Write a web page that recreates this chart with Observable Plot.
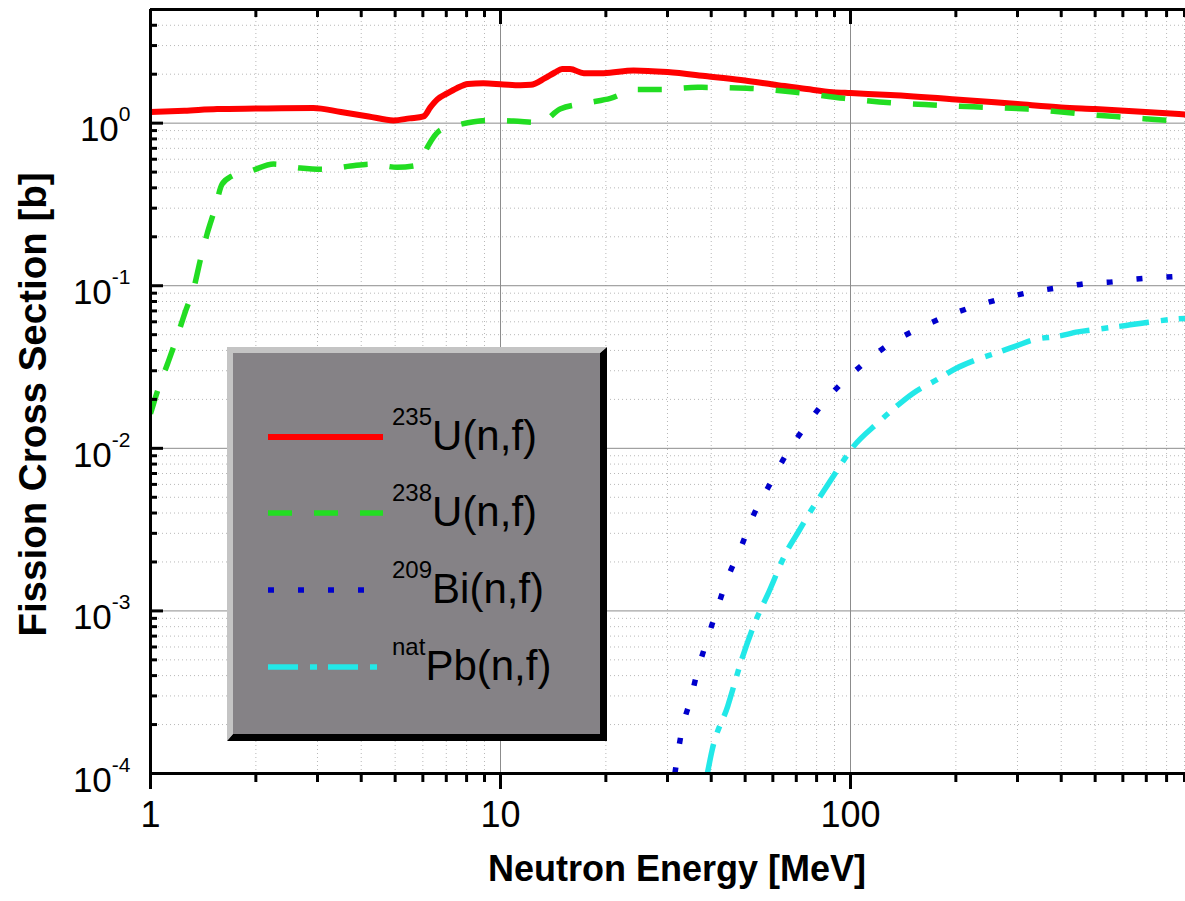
<!DOCTYPE html>
<html><head><meta charset="utf-8">
<script src="https://cdn.jsdelivr.net/npm/d3@7"></script>
<script src="https://cdn.jsdelivr.net/npm/@observablehq/plot@0.6"></script>
<style>
html,body{margin:0;padding:0;background:#fff;overflow:hidden;}
#chart{position:relative;width:1185px;height:901px;}
</style></head><body><div id="chart"></div>
<script>
// ---- data ----
const energyU235 = [1, 1.25, 1.55, 2.0, 2.92, 3.5, 4.2, 4.95, 5.5, 6.03, 6.3, 6.6, 7.06, 7.5, 8.07, 8.93, 10.2, 11.4, 12.2, 13.4, 14.3, 15.0, 15.8, 17.3, 19.7, 24, 30, 39, 48.6, 60, 75, 89, 100, 130, 200, 300, 400, 500, 800, 906];
const sigmaU235  = [1.17, 1.19, 1.22, 1.23, 1.24, 1.17, 1.10, 1.04, 1.07, 1.10, 1.25, 1.40, 1.53, 1.64, 1.74, 1.76, 1.73, 1.71, 1.72, 1.89, 2.05, 2.15, 2.15, 2.03, 2.03, 2.11, 2.06, 1.94, 1.84, 1.73, 1.62, 1.55, 1.53, 1.49, 1.40, 1.31, 1.25, 1.22, 1.15, 1.13];

const energyU238 = [1, 1.047, 1.118, 1.18, 1.26, 1.33, 1.39, 1.45, 1.53, 1.6, 1.7, 1.93, 2.25, 2.68, 3.12, 3.73, 4.26, 5.07, 5.65, 5.9, 6.2, 6.7, 7.7, 9.35, 10.9, 13.0, 14.8, 17.7, 20.6, 24.6, 28.6, 36.6, 50.6, 69.6, 96, 133, 163, 225, 320, 455, 595, 804, 906];
const sigmaU238  = [0.0163, 0.0225, 0.033, 0.0457, 0.070, 0.097, 0.146, 0.207, 0.30, 0.42, 0.47, 0.507, 0.56, 0.53, 0.52, 0.545, 0.56, 0.535, 0.545, 0.58, 0.72, 0.90, 0.985, 1.04, 1.03, 1.01, 1.22, 1.33, 1.42, 1.61, 1.61, 1.66, 1.64, 1.55, 1.42, 1.33, 1.30, 1.26, 1.22, 1.14, 1.09, 1.04, 1.02];

const energyBi209 = [31.5, 33.0, 34.9, 36.7, 39.0, 41.7, 44.6, 48.6, 52.6, 58.3, 65.2, 74.4, 87.6, 105.6, 127, 155, 188, 228, 275, 333, 403, 488, 543, 657, 795, 906];
const sigmaBi209  = [1.0e-4, 1.86e-4, 2.85e-4, 4.4e-4, 6.7e-4, 1.05e-3, 1.6e-3, 2.45e-3, 3.8e-3, 5.8e-3, 9.0e-3, 0.0137, 0.0213, 0.0313, 0.0427, 0.054, 0.065, 0.075, 0.084, 0.092, 0.098, 0.104, 0.105, 0.110, 0.113, 0.115];

const energyPb = [39, 40.2, 44.6, 49, 54.3, 57.8, 65.9, 71.2, 76.9, 84, 93, 101, 120, 134, 150, 178, 200, 225, 265, 298, 333, 394, 446, 507, 613, 713, 856, 906];
const sigmaPb  = [1.0e-4, 1.38e-4, 2.6e-4, 5.1e-4, 9.3e-4, 1.24e-3, 2.35e-3, 3.1e-3, 4.1e-3, 5.5e-3, 7.7e-3, 1.0e-2, 0.0144, 0.0178, 0.0216, 0.0267, 0.031, 0.0346, 0.039, 0.0427, 0.0465, 0.049, 0.052, 0.054, 0.057, 0.0597, 0.0625, 0.063];

const legendSup  = ["235", "238", "209", "nat"];
const legendMain = ["U(n,f)", "U(n,f)", "Bi(n,f)", "Pb(n,f)"];

const xTickLabels = [1, 10, 100];
const yTickLabels = [1e-4, 1e-3, 1e-2, 1e-1, 1];
const xTitle = "Neutron Energy [MeV]";
const yTitle = "Fission Cross Section [b]";

// ---- styles ----
const seriesColor = ["#ff0000", "#22dd22", "#0000cc", "#22e8e8"];
const seriesDash  = [null, "24,22", "6,24", "30,12,7,11"];
const seriesWidth = [6, 5.5, 5.5, 5.5];

// ---- layout ----
const W = 1185, H = 901, mL = 150, mT = 9, mB = 128, mR = 0;
const plotW = W - mL - mR, plotH = H - mT - mB;
const xDomain = [1, 906], yDomain = [1e-4, 5];
const FONT = "'Liberation Sans', Arial, sans-serif";

const xMinor = [];
for (const d of [1, 10, 100]) for (let k = 2; k <= 9; k++) if (d * k <= xDomain[1]) xMinor.push(d * k);
const yMinor = [];
for (const d of [1e-4, 1e-3, 1e-2, 1e-1, 1]) for (let k = 2; k <= 9; k++) if (d * k < yDomain[1]) yMinor.push(d * k);

const tables = [
  d3.zip(energyU235, sigmaU235),
  d3.zip(energyU238, sigmaU238),
  d3.zip(energyBi209, sigmaBi209),
  d3.zip(energyPb, sigmaPb)
].map(a => a.map(([e, s]) => ({e, s})));

const lineMarks = tables.map((t, i) => Plot.line(t, {
  x: "e", y: "s", stroke: seriesColor[i], strokeWidth: seriesWidth[i],
  strokeDasharray: seriesDash[i], curve: "monotone-x", clip: true,
  strokeLinecap: i === 0 ? "round" : "butt", strokeLinejoin: "round"
}));

const chart = Plot.plot({
  width: W, height: H, marginLeft: mL, marginTop: mT, marginBottom: mB, marginRight: mR,
  style: {fontFamily: FONT, background: "#fff", overflow: "visible", color: "#000"},
  x: {type: "log", domain: xDomain, axis: null},
  y: {type: "log", domain: yDomain, axis: null},
  marks: [
    // minor grid
    Plot.ruleX(xMinor, {stroke: "#b8b8b8", strokeDasharray: "1,3"}),
    Plot.ruleY(yMinor, {stroke: "#b8b8b8", strokeDasharray: "1,3"}),
    // major grid
    Plot.ruleX(xTickLabels.slice(1), {stroke: "#8c8c8c", strokeWidth: 1}),
    Plot.ruleY(yTickLabels.slice(1), {stroke: "#8c8c8c", strokeWidth: 1}),
    // data
    ...lineMarks,
    // frame lines
    Plot.ruleX([xDomain[0]], {stroke: "#000", strokeWidth: 3}),
    Plot.ruleY([yDomain[0]], {stroke: "#000", strokeWidth: 3}),
    Plot.ruleY([yDomain[1]], {stroke: "#000", strokeWidth: 3}),
    // top ticks (inward)
    Plot.tickX(xMinor, {x: d => d, insetBottom: plotH - 8, stroke: "#000", strokeWidth: 3}),
    Plot.tickX(xTickLabels, {x: d => d, insetBottom: plotH - 15, stroke: "#000", strokeWidth: 3}),
    // bottom ticks (outward)
    Plot.tickX(xMinor, {x: d => d, insetTop: plotH, insetBottom: -9, stroke: "#000", strokeWidth: 3}),
    Plot.tickX(xTickLabels, {x: d => d, insetTop: plotH, insetBottom: -16, stroke: "#000", strokeWidth: 3}),
    // left ticks (inward)
    Plot.tickY(yMinor, {y: d => d, insetRight: plotW - 7, stroke: "#000", strokeWidth: 3}),
    Plot.tickY(yTickLabels, {y: d => d, insetRight: plotW - 13, stroke: "#000", strokeWidth: 3}),
    // tick labels
    Plot.axisX(xTickLabels, {anchor: "bottom", tickSize: 0, tickPadding: 28, fontSize: 36, tickFormat: d => String(d), label: null}),
    Plot.axisY(yTickLabels, {anchor: "left", tickSize: 0, tickPadding: 20, fontSize: 35, dy: 7,
      tickFormat: d => "10^" + Math.round(Math.log10(d)), label: null}),
    // titles
    Plot.text([xTitle], {text: d => d, frameAnchor: "bottom", dy: 107, dx: 9, fontSize: 36, fontWeight: "bold", textAnchor: "middle"}),
    Plot.text([yTitle], {text: d => d, frameAnchor: "left", rotate: -90, dx: -117, dy: 13, fontSize: 38.5, fontWeight: "bold", textAnchor: "middle"})
  ]
});

// superscripts on y tick labels
d3.select(chart).selectAll('g[aria-label="y-axis tick label"] text').each(function () {
  const t = this.textContent;
  const [b, e] = t.split("^");
  const sel = d3.select(this);
  sel.text(null);
  sel.append("tspan").text(b);
  sel.append("tspan").attr("dy", -20).attr("font-size", 21).text(e);
});

// legend box
const svg = d3.select(chart);
const lg = svg.append("g").attr("class", "legend").attr("text-anchor", "start");
const bx0 = 227, by0 = 347, bx1 = 607, by1 = 741, bev = 6;
lg.append("rect").attr("x", bx0).attr("y", by0).attr("width", bx1 - bx0).attr("height", by1 - by0).attr("fill", "#858286");
lg.append("polygon").attr("fill", "#000")
  .attr("points", `${bx1},${by0} ${bx1},${by1} ${bx0},${by1} ${bx0 + bev},${by1 - bev - 1} ${bx1 - bev - 1},${by1 - bev - 1} ${bx1 - bev - 1},${by0 + bev}`);
lg.append("polygon").attr("fill", "#c4c4c4")
  .attr("points", `${bx0},${by0} ${bx1},${by0} ${bx1 - bev - 1},${by0 + bev} ${bx0 + bev},${by0 + bev} ${bx0 + bev},${by1 - bev - 1} ${bx0},${by1}`);

const rowY = [437, 513, 590, 667];
legendSup.forEach((sup, i) => {
  const y = rowY[i];
  lg.append("line").attr("x1", 268).attr("x2", 383).attr("y1", y).attr("y2", y)
    .attr("stroke", seriesColor[i]).attr("stroke-width", seriesWidth[i])
    .attr("stroke-dasharray", seriesDash[i]);
  const t = lg.append("text").attr("x", 392).attr("y", y + 13).attr("text-anchor", "start")
    .attr("font-family", FONT).attr("fill", "#000");
  t.append("tspan").attr("dy", -25).attr("font-size", 24).text(sup);
  t.append("tspan").attr("dy", 25).attr("font-size", 42).text(legendMain[i]);
});

document.getElementById("chart").appendChild(chart);
</script>
</body></html>
